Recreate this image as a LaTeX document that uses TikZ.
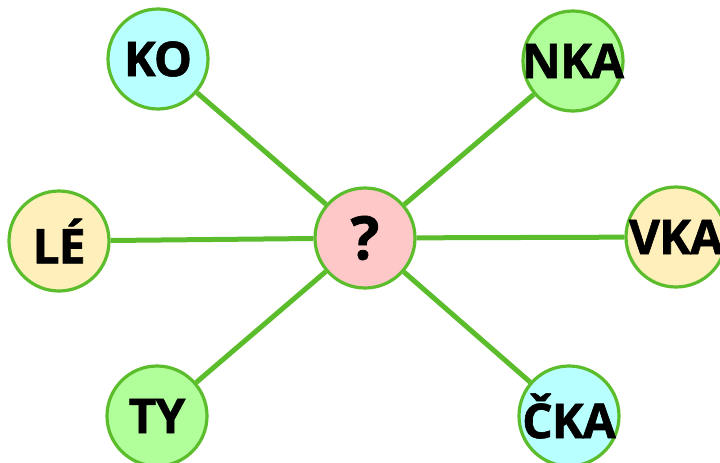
\documentclass[tikz,border=0pt]{standalone}
\usepackage{fontspec}
\setmainfont{Open Sans}[BoldFeatures = {FakeBold = 1.2, LetterSpace = -2}]
\usetikzlibrary{positioning}
\definecolor{edgegreen}{HTML}{5BBD2B}
\definecolor{fillcyan}{HTML}{B8FFFF}
\definecolor{fillgreen}{HTML}{B0FF9A}
\definecolor{fillyellow}{HTML}{FFF0BB}
\definecolor{fillpink}{HTML}{FFC8C8}
\tikzset{
  syl/.style = {circle, draw = edgegreen, line width = 3.2pt, minimum size = 100pt, inner sep = -20pt, font = \fontsize{48}{48}\selectfont\bfseries},
  link/.style = {draw = edgegreen, line width = 5pt}
}

\begin{document}
\begin{tikzpicture}[x = 1pt, y = -1pt]
\useasboundingbox (0,0) rectangle (720,463);
\node [syl, fill = fillpink, font = \fontsize{60}{60}\selectfont\bfseries] (q) at (365,238) {?};
\node [syl, fill = fillcyan] (ko) at (158,59) {KO};
\node [syl, fill = fillgreen] (nka) at (573,61) {NKA};
\node [syl, fill = fillyellow] (le) at (59,241) {LÉ};
\node [syl, fill = fillyellow] (vka) at (676,237) {VKA};
\node [syl, fill = fillgreen] (ty) at (157,416) {TY};
\node [syl, fill = fillcyan] (cka) at (569,416) {ČKA};
\foreach \n in {ko, nka, le, vka, ty, cka}
  \draw [link] (q) -- (\n);
\end{tikzpicture}
\end{document}
